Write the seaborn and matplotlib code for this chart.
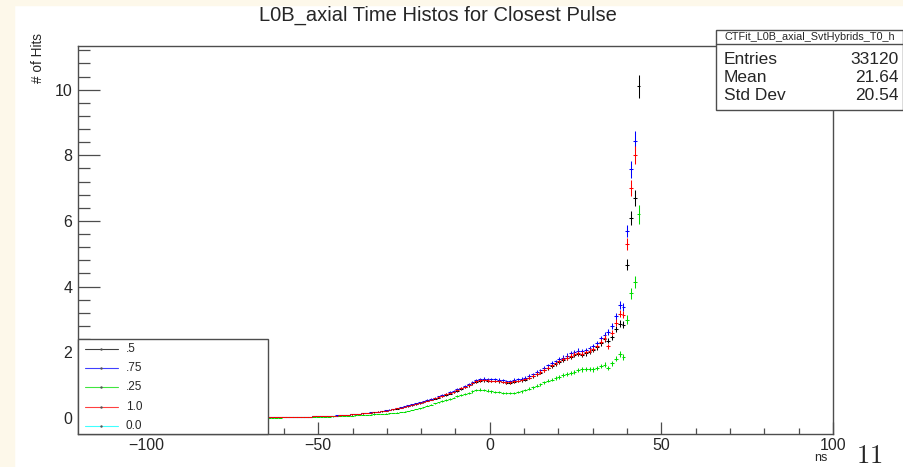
import numpy as np
import pandas as pd
import matplotlib
matplotlib.use("Agg")
import matplotlib.pyplot as plt
import seaborn as sns
from matplotlib.patches import Rectangle
from matplotlib.lines import Line2D

# ---------------- data ----------------
title = "L0B_axial Time Histos for Closest Pulse"
y_label = "# of Hits"
x_label = "ns"
page_number = "11"
stats_name = "CTFit_L0B_axial_SvtHybrids_T0_h"
stats_keys = ["Entries", "Mean", "Std Dev"]
stats_vals = ["33120", "21.64", "20.54"]

series_labels = [".5", ".75", ".25", "1.0", "0.0"]
series_colors = ["#000000", "#0000ff", "#00dd00", "#ff0000", "#00ffff"]
series_rel_err = [0.035, 0.034, 0.045, 0.034, 0.034]

# histogram axis: 200 bins from -120 to 100 ns; filled bins start at index 50
hist_lo, hist_hi, hist_nbins = -120.0, 100.0, 200
first_bin = 50

vals_05 = [0.02, 0.02, 0.02, 0.02, 0.02, 0.025, 0.025, 0.03, 0.03, 0.035,
           0.035, 0.04, 0.045, 0.045, 0.05, 0.055, 0.06, 0.065, 0.07, 0.08,
           0.085, 0.095, 0.105, 0.115, 0.125, 0.135, 0.145, 0.16, 0.17, 0.185,
           0.20, 0.22, 0.24, 0.26, 0.285, 0.31, 0.33, 0.36, 0.39, 0.42,
           0.45, 0.48, 0.52, 0.55, 0.59, 0.62, 0.66, 0.70, 0.74, 0.78,
           0.83, 0.88, 0.93, 0.99, 1.05, 1.10, 1.13, 1.14, 1.13, 1.12,
           1.12, 1.11, 1.09, 1.07, 1.07, 1.10, 1.12, 1.14, 1.17, 1.22,
           1.27, 1.33, 1.38, 1.45, 1.52, 1.58, 1.64, 1.70, 1.76, 1.82,
           1.87, 1.91, 1.94, 1.93, 1.97, 2.02, 2.07, 2.15, 2.28, 2.40,
           2.35, 2.45, 2.70, 2.87, 2.84, 4.67, 6.10, 6.70, 10.10]

vals_075 = [0.02, 0.02, 0.02, 0.02, 0.025, 0.025, 0.03, 0.03, 0.03, 0.035,
            0.04, 0.04, 0.045, 0.05, 0.055, 0.06, 0.065, 0.07, 0.075, 0.08,
            0.09, 0.10, 0.11, 0.12, 0.13, 0.14, 0.155, 0.17, 0.18, 0.195,
            0.21, 0.23, 0.25, 0.27, 0.30, 0.32, 0.35, 0.38, 0.41, 0.44,
            0.47, 0.51, 0.55, 0.58, 0.62, 0.66, 0.69, 0.74, 0.78, 0.82,
            0.87, 0.92, 0.98, 1.04, 1.10, 1.16, 1.19, 1.20, 1.19, 1.18,
            1.18, 1.17, 1.15, 1.13, 1.13, 1.17, 1.18, 1.20, 1.23, 1.28,
            1.33, 1.40, 1.45, 1.52, 1.60, 1.67, 1.72, 1.78, 1.84, 1.90,
            1.97, 2.01, 2.05, 2.03, 2.07, 2.13, 2.18, 2.28, 2.42, 2.52,
            2.62, 2.79, 3.09, 3.45, 3.38, 5.69, 7.57, 8.44, np.nan]

vals_025 = [0.01, 0.01, 0.01, 0.01, 0.015, 0.015, 0.015, 0.02, 0.02, 0.02,
            0.025, 0.025, 0.03, 0.03, 0.035, 0.035, 0.04, 0.045, 0.05, 0.055,
            0.06, 0.065, 0.07, 0.075, 0.08, 0.085, 0.09, 0.10, 0.105, 0.11,
            0.12, 0.13, 0.14, 0.15, 0.16, 0.175, 0.19, 0.21, 0.24, 0.27,
            0.30, 0.33, 0.37, 0.40, 0.44, 0.47, 0.51, 0.55, 0.58, 0.62,
            0.66, 0.69, 0.73, 0.77, 0.81, 0.85, 0.86, 0.85, 0.83, 0.81,
            0.79, 0.78, 0.76, 0.75, 0.75, 0.77, 0.79, 0.81, 0.85, 0.89,
            0.93, 0.98, 1.03, 1.08, 1.13, 1.17, 1.21, 1.25, 1.30, 1.34,
            1.38, 1.41, 1.45, 1.48, 1.49, 1.49, 1.48, 1.52, 1.58, 1.62,
            1.52, 1.66, 1.80, 1.95, 1.85, 2.99, 3.80, 4.14, 6.20]

vals_10 = [0.02, 0.02, 0.02, 0.02, 0.025, 0.025, 0.025, 0.03, 0.03, 0.035,
           0.035, 0.04, 0.045, 0.05, 0.05, 0.055, 0.06, 0.065, 0.07, 0.075,
           0.085, 0.095, 0.105, 0.115, 0.125, 0.135, 0.15, 0.16, 0.175, 0.19,
           0.205, 0.225, 0.245, 0.265, 0.29, 0.315, 0.34, 0.37, 0.40, 0.43,
           0.46, 0.49, 0.53, 0.56, 0.60, 0.64, 0.67, 0.72, 0.76, 0.80,
           0.85, 0.90, 0.95, 1.01, 1.06, 1.11, 1.14, 1.15, 1.14, 1.13,
           1.13, 1.12, 1.10, 1.08, 1.08, 1.11, 1.13, 1.15, 1.18, 1.23,
           1.28, 1.34, 1.40, 1.46, 1.53, 1.60, 1.66, 1.72, 1.78, 1.84,
           1.90, 1.94, 1.97, 1.96, 2.00, 2.05, 2.10, 2.19, 2.32, 2.44,
           2.18, 2.60, 2.90, 3.17, 3.14, 5.31, 7.01, 8.00, np.nan]

vals_00 = []  # listed in legend, no visible entries

series_values = [vals_05, vals_075, vals_025, vals_10, vals_00]

# ---------------- build table ----------------
edges = np.linspace(hist_lo, hist_hi, hist_nbins + 1)
centers = 0.5 * (edges[:-1] + edges[1:])
bin_w = edges[1] - edges[0]
rows = []
for lab, vals, rel in zip(series_labels, series_values, series_rel_err):
    for i, v in enumerate(vals):
        rows.append({"series": lab, "t": centers[first_bin + i], "hits": v, "err": v * rel})
df = pd.DataFrame(rows).dropna()

# ---------------- style ----------------
sns.set_style("white")
plt.rcParams["font.family"] = ["Liberation Sans", "DejaVu Sans"]
plt.rcParams["mathtext.fontset"] = "cm"

W, H = 904, 467
fig = plt.figure(figsize=(W / 100, H / 100), dpi=100)
fig.patch.set_facecolor("white")
cream = "#fdf8ea"
fig.add_artist(Rectangle((0, 0), 14 / W, 1, transform=fig.transFigure, color=cream, zorder=-5))
fig.add_artist(Rectangle((0, 1 - 5 / H), 1, 5 / H, transform=fig.transFigure, color=cream, zorder=-5))

ax_l, ax_r, ax_t, ax_b = 78, 833, 46, 434
ax = fig.add_axes([ax_l / W, 1 - ax_b / H, (ax_r - ax_l) / W, (ax_b - ax_t) / H])
ax.set_facecolor("white")

palette = dict(zip(series_labels, series_colors))
# horizontal bin-width bars
sns.scatterplot(data=df, x="t", y="hits", hue="series", palette=palette,
                marker="_", s=(bin_w * (ax_r - ax_l) / (hist_hi - hist_lo) * 0.72) ** 2,
                linewidth=0.75, legend=False, ax=ax, zorder=3)
# vertical error bars
for lab in series_labels:
    sub = df[df["series"] == lab]
    if len(sub):
        ax.errorbar(sub["t"], sub["hits"], yerr=sub["err"], fmt="none",
                    ecolor=palette[lab], elinewidth=0.75, capsize=0, zorder=3)

ax.set_xlim(hist_lo, hist_hi)
ax.set_ylim(-0.49, 11.33)
ax.set_xticks([-100, -50, 0, 50, 100])
ax.set_xticks(np.arange(-110, 100, 10), minor=True)
ax.set_yticks([0, 2, 4, 6, 8, 10])
ax.set_yticks(np.arange(-0.4, 11.3, 0.4), minor=True)
ax.set_xticklabels(["\u2212100", "\u221250", "0", "50", "100"])
frame_c = "#4d4d4d"
for s in ax.spines.values():
    s.set_color(frame_c)
    s.set_linewidth(1.0)
ax.tick_params(axis="x", which="major", direction="in", length=9, width=0.9, color=frame_c,
               labelsize=11.5, pad=3, top=False, bottom=True)
ax.tick_params(axis="x", which="minor", direction="in", length=4.5, width=0.9, color=frame_c,
               top=False, bottom=True)
ax.tick_params(axis="y", which="major", direction="in", length=16, width=0.9, color=frame_c,
               labelsize=11.5, pad=4, right=False, left=True)
ax.tick_params(axis="y", which="minor", direction="in", length=8.5, width=0.9, color=frame_c,
               right=False, left=True)
ax.set_xlabel("")
ax.set_ylabel("")

# title and axis titles
fig.text(438 / W, 1 - 15 / H, title, ha="center", va="center", fontsize=14.5)
fig.text(38 / W, 1 - 33 / H, y_label, ha="center", va="top", rotation=90, fontsize=9.8)
fig.text(828 / W, 1 - 458 / H, x_label, ha="right", va="center", fontsize=9)
fig.text(869 / W, 1 - 456 / H, r"$\mathrm{" + page_number + "}$", ha="center", va="center",
         fontsize=19)

# legend box (lower left)
leg_l, leg_r, leg_t, leg_b = 78, 268, 339, 434
fig.add_artist(Rectangle((leg_l / W, 1 - leg_b / H), (leg_r - leg_l) / W, (leg_b - leg_t) / H,
                         transform=fig.transFigure, facecolor="white", edgecolor=frame_c,
                         linewidth=1.0, zorder=10))
leg_rows = [349, 368, 387, 407, 426]
for lab, col, yy in zip(series_labels, series_colors, leg_rows):
    fig.add_artist(Line2D([85 / W, 118 / W], [1 - yy / H, 1 - yy / H], transform=fig.transFigure,
                          color=col, linewidth=0.8, alpha=0.75, zorder=11))
    fig.add_artist(Line2D([101.5 / W], [1 - yy / H], transform=fig.transFigure, marker="s",
                          markersize=0.7, color="#555555", linewidth=0, zorder=12))
    fig.text(126 / W, 1 - yy / H, lab, ha="left", va="center", fontsize=8.5, zorder=11)

# stats box (top right)
st_l, st_r, st_t, st_sep, st_b = 716, 903, 30, 44, 110
fig.add_artist(Rectangle((st_l / W, 1 - st_b / H), (st_r - st_l) / W, (st_b - st_t) / H,
                         transform=fig.transFigure, facecolor="white", edgecolor=frame_c,
                         linewidth=1.0, zorder=10))
fig.add_artist(Line2D([st_l / W, st_r / W], [1 - st_sep / H, 1 - st_sep / H],
                      transform=fig.transFigure, color=frame_c, linewidth=1.0, zorder=11))
fig.text((st_l + st_r) / 2 / W, 1 - (st_t + st_sep) / 2 / H, stats_name, ha="center", va="center",
         fontsize=7.8, zorder=11)
for k, v, yy in zip(stats_keys, stats_vals, [59, 77, 95]):
    fig.text((st_l + 8) / W, 1 - yy / H, k, ha="left", va="center", fontsize=12.5, zorder=11)
    fig.text((st_r - 4) / W, 1 - yy / H, v, ha="right", va="center", fontsize=12.5, zorder=11)

fig.savefig("out.png", dpi=100)
